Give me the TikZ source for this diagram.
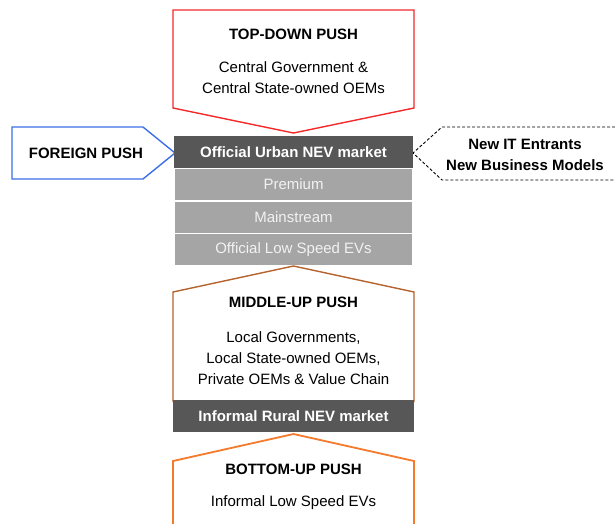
\documentclass[tikz,border=0pt]{standalone}
\usepackage{fontspec}
\setmainfont{Liberation Sans}
\usetikzlibrary{calc}

\definecolor{pushRed}{HTML}{F42A2A}
\definecolor{pushBlue}{HTML}{3C6FE6}
\definecolor{pushBrown}{HTML}{B5622C}
\definecolor{pushOrange}{HTML}{F47A2C}
\definecolor{bandGray}{HTML}{575757}
\definecolor{rowGray}{HTML}{A5A5A5}
\definecolor{rowText}{HTML}{F2F2F2}

\begin{document}
\begin{tikzpicture}[x=1pt,y=-1pt]

% ---------- parameters ----------
\def\xL{173}
\def\xR{414}
\def\xC{293.5}

\useasboundingbox (0,0) rectangle (615,523);

% ---------- styles ----------
\tikzset{
  txt/.style  ={inner sep=0pt,align=center,font=\fontsize{15}{21}\selectfont},
  ttl/.style  ={txt,font=\fontsize{15}{21}\selectfont\bfseries},
  band/.style ={ttl,fill=bandGray,text=white,minimum width=239pt,minimum height=32pt},
  row/.style  ={txt,fill=rowGray,text=rowText,minimum width=237pt,minimum height=31pt},
  push/.style ={line width=1.4pt,line join=miter}
}

% ---------- top-down ----------
\draw[push,draw=pushRed] (\xL,10) -- (\xR,10) -- (\xR,108) -- (\xC,133) -- (\xL,108) -- cycle;
\node[ttl] (topTitle) at (\xC,34) {TOP-DOWN PUSH};
\node[txt] (topBody)  at (\xC,78) {Central Government \&\\Central State-owned OEMs};

% ---------- foreign / new entrants ----------
\draw[push,draw=pushBlue] (12,127) -- (143,127) -- (175,153) -- (143,179) -- (12,179) -- cycle;
\node[ttl] (foreign) at (86,153) {FOREIGN PUSH};

\draw[line width=0.9pt,dash pattern=on 3pt off 2pt] (620,127) -- (442,127) -- (413,153) -- (442,180) -- (620,180);
\node[ttl] (newIT) at (525,154.5) {New IT Entrants\\New Business Models};

% ---------- official market ----------
\node[band] (urban)      at (\xC,152)   {Official Urban NEV market};
\node[row]  (premium)    at (\xC,184.5) {Premium};
\node[row]  (mainstream) at (\xC,217)   {Mainstream};
\node[row]  (lowSpeed)   at (\xC,249.5) {Official Low Speed EVs};

% ---------- middle-up ----------
\draw[push,draw=pushBrown] (\xL,402) -- (\xL,292) -- (\xC,266) -- (\xR,292) -- (\xR,402);
\node[ttl] (midTitle) at (\xC,302) {MIDDLE-UP PUSH};
\node[txt] (midBody)  at (\xC,358) {Local Governments,\\Local State-owned OEMs,\\Private OEMs \& Value Chain};
\node[band,minimum width=241pt] (rural) at (\xC,416) {Informal Rural NEV market};

% ---------- bottom-up ----------
\draw[push,draw=pushOrange,line width=1.8pt] (\xL,530) -- (\xL,461) -- (\xC,434) -- (\xR,461) -- (\xR,530);
\node[ttl] (botTitle) at (\xC,469) {BOTTOM-UP PUSH};
\node[txt] (botBody)  at (\xC,503) {Informal Low Speed EVs};

\end{tikzpicture}
\end{document}
